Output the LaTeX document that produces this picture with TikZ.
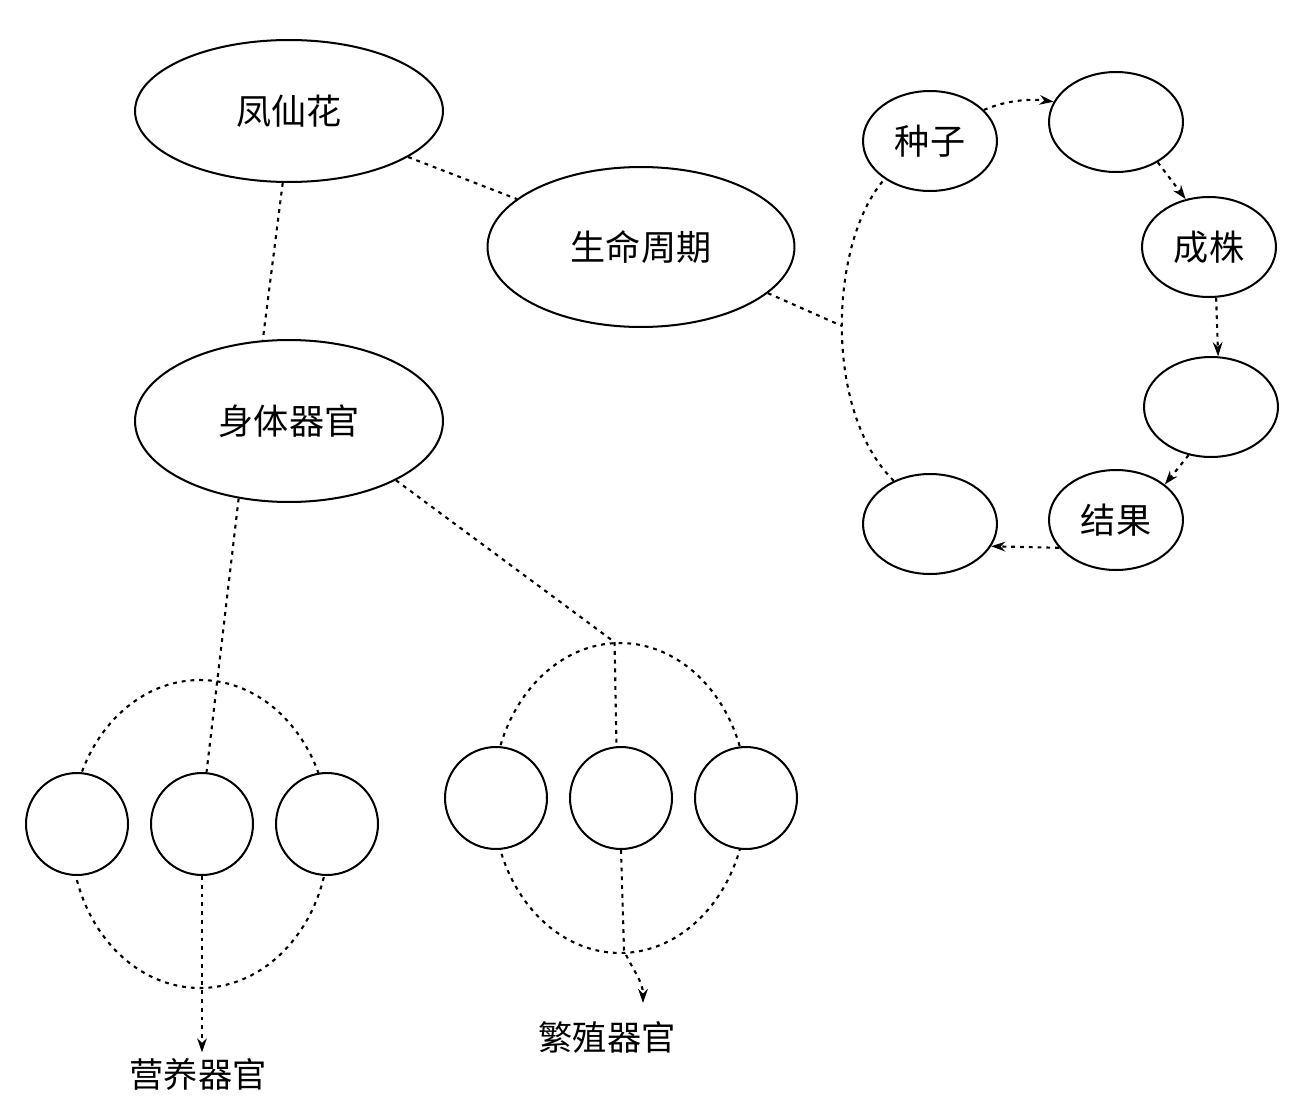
\documentclass[tikz,border=0pt]{standalone}
\usepackage{fontspec}
\setmainfont{Noto Sans CJK SC}
\usetikzlibrary{shapes.geometric,arrows.meta}

\begin{document}
\begin{tikzpicture}[x=0.02cm, y=-0.02cm,
    font=\fontsize{20}{24}\selectfont,
    topic/.style={ellipse, draw, line width=1.15pt, inner sep=0pt, minimum width=6.14cm, minimum height=3.2cm},
    stage/.style={ellipse, draw, line width=1.15pt, inner sep=0pt, minimum width=2.68cm, minimum height=2cm},
    part/.style={circle, draw, line width=1.15pt, fill=white, inner sep=0pt, minimum size=2.04cm},
    ring/.style={ellipse, draw, line width=1.2pt, dash pattern=on 2.2pt off 2.8pt, inner sep=0pt},
    link/.style={line width=1.2pt, dash pattern=on 2.2pt off 2.8pt},
    arrow/.style={link, -{Stealth[length=8pt, width=5.5pt]}},
    caption/.style={inner sep=3pt, font=\fontsize{19.5}{23}\selectfont}
]
\useasboundingbox (0,0) rectangle (1299,1102);

% Main topics
\node[topic, minimum width=6.16cm, minimum height=2.84cm] (flower) at (289,111) {凤仙花};
\node[topic] (cycle) at (641,247) {生命周期};
\node[topic, minimum width=6.16cm, minimum height=3.24cm] (organ) at (289,421) {身体器官};

\draw[link] (flower) -- (cycle);
\draw[link] (flower.265) -- (organ.108);

% Life cycle stages
\node[stage] (seed) at (930,141) {种子};
\node[stage] (sprout) at (1116,122) {};
\node[stage] (plant) at (1209,247) {成株};
\node[stage] (flowering) at (1211,407) {};
\node[stage] (fruit) at (1116,520) {结果};
\node[stage] (wither) at (930,524) {};
\coordinate (hub) at (842,326);

\draw[arrow] (seed.30) .. controls (1010,99) and (1033,99) .. (sprout.162);
\draw[arrow] (sprout.-44) -- (plant.116);
\draw[arrow] (plant.-82) -- (flowering.82);
\draw[arrow] (flowering.245) -- (fruit.36);
\draw[arrow] (fruit.206) -- (wither.-20);
\draw[link] (wither.130) .. controls (822,410) and (830,240) .. (seed.220);
\draw[link] (cycle.-20) -- (hub);

% Vegetative organs
\node[ring, minimum width=5.16cm, minimum height=6.16cm] (vegring) at (200,834) {};
\node[part] (veg1) at (77,824) {};
\node[part] (veg2) at (202,824) {};
\node[part] (veg3) at (327,824) {};
\node[caption] (veglabel) at (198,1074) {营养器官};

\draw[link] (organ.237) -- (veg2.85);
\draw[arrow] (veg2.south) -- (veg2.south |- veglabel.north);

% Reproductive organs
\node[ring, minimum width=5.08cm, minimum height=6.2cm] (repring) at (620,798) {};
\node[part] (rep1) at (496,798) {};
\node[part] (rep2) at (621,798) {};
\node[part] (rep3) at (746,798) {};
\node[caption] (replabel) at (607,1037) {繁殖器官};
\coordinate (repbend) at (624,950);
\coordinate (reptip) at (643,1003);

\draw[link] (organ.-29) -- (repring.92);
\draw[link] (repring.92) -- (rep2.95);
\draw[arrow] (rep2.south) -- (repbend) .. controls (631,968) and (643,980) .. (reptip);

\end{tikzpicture}
\end{document}
